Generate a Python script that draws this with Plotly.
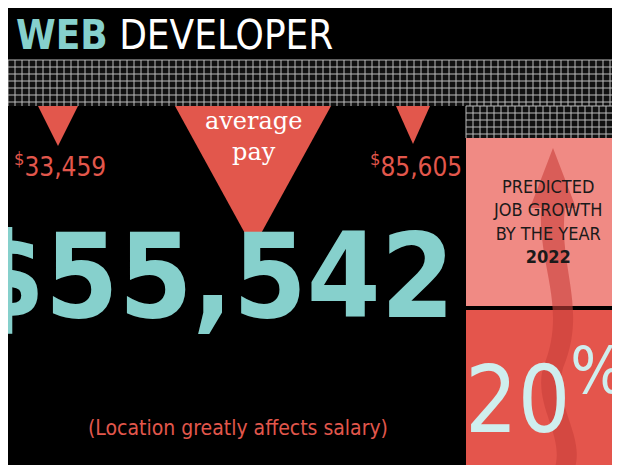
import plotly.graph_objects as go

W, H = 620, 465
salary_low = "33,459"
salary_avg = "55,542"
salary_high = "85,605"
growth_pct = "20"
growth_year = "2022"
title_bold = "WEB"
title_rest = "DEVELOPER"

teal = "#86d0cc"
salmon = "#e2574c"
pink = "#f08a84"
red = "#e4554c"
cond = "DejaVu Sans Condensed, Liberation Sans"

fig = go.Figure()
shapes = []

# grid band
def grid(x0, x1, y0, y1, step=7):
    out = [dict(type="rect", x0=x0, x1=x1, y0=y0, y1=y1, fillcolor="#111", line_width=0, layer="below")]
    x = x0
    while x <= x1:
        out.append(dict(type="line", x0=x, x1=x, y0=y0, y1=y1, line=dict(color="#bbb", width=1)))
        x += step
    y = y0
    while y <= y1:
        out.append(dict(type="line", x0=x0, x1=x1, y0=y, y1=y, line=dict(color="#bbb", width=1)))
        y += step
    return out

shapes += grid(0, 620, 52, 98)
shapes += grid(458, 620, 98, 130)

# right panels
shapes.append(dict(type="rect", x0=458, x1=620, y0=130, y1=298, fillcolor=pink, line_width=0))
shapes.append(dict(type="rect", x0=458, x1=620, y0=302, y1=465, fillcolor=red, line_width=0))
shapes.append(dict(type="path", path="M 545 140 L 522 200 L 533 200 C 530 260, 560 300, 535 360 C 525 400, 560 430, 545 465 L 565 465 C 580 430, 545 400, 555 360 C 580 300, 550 260, 557 200 L 568 200 Z",
                   fillcolor="#c9403a", line_width=0, opacity=0.6))

# triangles
for cx, top, half, depth in [(50, 98, 20, 40), (245, 98, 78, 142), (405, 98, 17, 38)]:
    shapes.append(dict(type="path", path=f"M {cx-half} {top} L {cx+half} {top} L {cx} {top+depth} Z",
                       fillcolor=salmon, line_width=0))

ann = []
def t(x, y, text, size, color, family=cond, xanchor="left", yanchor="middle"):
    ann.append(dict(x=x, y=y, text=text, showarrow=False, xanchor=xanchor, yanchor=yanchor,
                    font=dict(size=size, color=color, family=family)))

t(6, 27, f"<b>{title_bold}</b> <span style='color:white'>{title_rest}</span>", 40, teal)
t(4, 157, f"<sup>&#36;</sup>{salary_low}", 26, salmon)
t(360, 157, f"<sup>&#36;</sup>{salary_high}", 26, salmon)
t(245, 128, "average<br>pay", 24, "white", family="DejaVu Serif", xanchor="center")
t(205, 268, f"<b>&#36;{salary_avg}</b>", 118, teal, xanchor="center")
t(230, 420, "(Location greatly affects salary)", 21, salmon, xanchor="center")
t(539, 213, f"PREDICTED<br>JOB GROWTH<br>BY THE YEAR<br><b>{growth_year}</b>", 18, "#1a1a1a", xanchor="center")
t(537, 385, f"{growth_pct}<sup>%</sup>", 92, "#cfeeee", xanchor="center")

fig.update_layout(
    width=W, height=H, margin=dict(l=0, r=0, t=0, b=0),
    paper_bgcolor="black", plot_bgcolor="black",
    xaxis=dict(range=[0, W], visible=False, fixedrange=True),
    yaxis=dict(range=[H, 0], visible=False, fixedrange=True),
    shapes=shapes, annotations=ann, showlegend=False,
)
fig.write_html("out.html")
